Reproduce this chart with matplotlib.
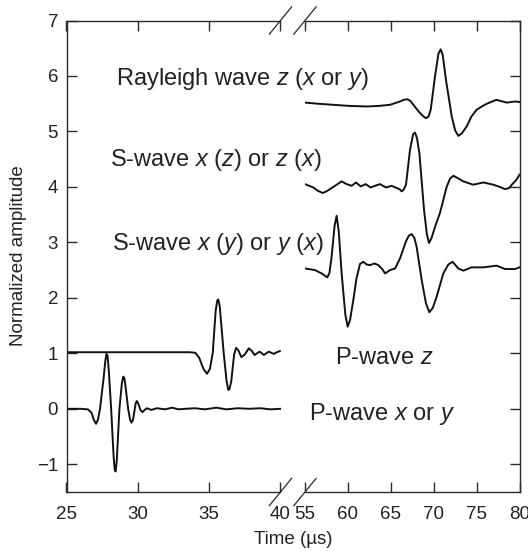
import numpy as np
import matplotlib
matplotlib.use("Agg")
import matplotlib.pyplot as plt

plt.rcParams['font.family'] = ['Liberation Sans', 'DejaVu Sans']
plt.rcParams['mathtext.fontset'] = 'custom'
plt.rcParams['mathtext.rm'] = 'Liberation Sans'
plt.rcParams['mathtext.it'] = 'Liberation Sans:italic'

# --- traces (time in us, normalized amplitude) ---
# left window 25-40 us
p_xy_t = [25.0, 26.0, 26.5, 26.75, 26.92, 27.07, 27.2, 27.35, 27.6, 27.72, 27.8, 27.88, 27.96,
          28.13, 28.3, 28.38, 28.44, 28.52, 28.71, 28.88, 28.98, 29.06, 29.14, 29.32, 29.46,
          29.56, 29.66, 29.85, 29.93, 30.02, 30.2, 30.33, 30.48, 30.63, 30.94, 31.34, 31.92,
          32.39, 32.86, 33.33, 34.0, 34.7, 35.5, 36.2, 37.0, 37.8, 38.6, 39.3, 40.0]
p_xy_amp = [0.0, 0.0, -0.01, -0.07, -0.2, -0.27, -0.2, 0.0, 0.55, 0.86, 0.99, 0.95, 0.7,
            0.0, -0.85, -1.1, -1.13, -0.95, 0.0, 0.46, 0.58, 0.55, 0.4, 0.0, -0.2,
            -0.25, -0.2, 0.1, 0.14, 0.1, -0.03, -0.06, -0.02, 0.01, -0.02, 0.01, -0.01,
            0.02, -0.01, 0.0, 0.01, -0.01, 0.02, -0.01, 0.01, 0.0, 0.01, -0.01, 0.0]

p_z_t = [25.0, 26.5, 28.0, 29.5, 31.0, 32.5, 33.6, 34.03, 34.3, 34.6, 34.85, 35.05,
         35.25, 35.45, 35.56, 35.64, 35.74, 36.02, 36.22, 36.34, 36.42, 36.55, 36.75, 36.89,
         37.05, 37.26, 37.5, 37.78, 38.0, 38.18, 38.35, 38.53, 38.7, 38.83, 39.0, 39.18,
         39.35, 39.53, 39.75, 39.95]
p_z_amp = [1.02, 1.02, 1.02, 1.02, 1.02, 1.02, 1.02, 1.01, 0.92, 0.72, 0.63, 0.72,
           1.0, 1.75, 1.95, 1.97, 1.85, 1.0, 0.5, 0.34, 0.35, 0.5, 0.98, 1.1,
           1.05, 0.93, 0.98, 1.09, 1.04, 0.97, 1.0, 1.03, 1.0, 0.97, 1.0, 1.03,
           1.01, 0.99, 1.02, 1.04]

# right window 55-80 us
rayl_t = [55.0, 56.5, 58.3, 60.2, 62.2, 63.6, 64.9, 66.07, 66.5, 66.93, 67.3, 67.63,
          68.3, 68.8, 69.1, 69.4, 69.65, 70.15, 70.55, 70.81, 71.05, 71.43, 72.1, 72.5,
          72.87, 73.3, 73.84, 74.4, 75.0, 75.6, 76.2, 77.3, 78.5, 79.5, 80.0]
rayl_amp = [5.52, 5.5, 5.48, 5.46, 5.45, 5.46, 5.48, 5.54, 5.57, 5.58, 5.55, 5.48,
            5.35, 5.27, 5.24, 5.27, 5.39, 5.99, 6.4, 6.48, 6.38, 5.93, 5.27, 5.02,
            4.92, 4.97, 5.09, 5.27, 5.39, 5.45, 5.5, 5.57, 5.52, 5.54, 5.53]

s_xz_t = [55.0, 55.97, 56.5, 57.06, 57.5, 57.9, 58.6, 59.27, 59.85, 60.44, 60.94, 61.49,
          62.07, 62.65, 63.16, 63.74, 64.44, 65.1, 65.68, 66.0, 66.27, 66.5, 66.77,
          67.24, 67.6, 67.82, 68.05, 68.33, 68.87, 69.2, 69.45, 69.75, 70.2, 70.73,
          71.51, 71.9, 72.29, 72.8, 73.45, 74.6, 75.8, 76.95, 77.7, 78.3, 78.8, 79.1,
          79.6, 80.0]
s_xz_amp = [4.05, 3.99, 3.93, 3.89, 3.92, 3.96, 4.03, 4.1, 4.05, 4.02, 4.08, 4.01,
            4.05, 3.99, 4.02, 4.05, 3.99, 4.02, 3.98, 3.96, 3.92, 3.95, 4.04,
            4.67, 4.95, 4.98, 4.88, 4.61, 3.59, 3.15, 2.99, 3.08, 3.3, 3.53,
            4.0, 4.15, 4.2, 4.16, 4.1, 4.04, 4.08, 4.04, 4.0, 3.96, 3.98, 4.04,
            4.12, 4.22]

s_xy_t = [55.0, 56.17, 56.94, 57.6, 57.85, 58.1, 58.45, 58.69, 58.93, 59.27, 59.7,
          59.97, 60.25, 60.63, 61.0, 61.41, 61.8, 62.2, 62.58, 63.1, 63.55, 64.0,
          64.33, 64.91, 65.5, 66.07, 66.77, 67.1, 67.43, 67.75, 68.01, 68.6, 69.1,
          69.49, 69.9, 70.34, 71.12, 71.7, 72.2, 72.87, 73.45, 74.42, 75.78, 77.34,
          78.3, 79.5, 80.0]
s_xy_amp = [2.53, 2.5, 2.44, 2.37, 2.45, 2.74, 3.3, 3.48, 3.2, 2.44, 1.7,
            1.48, 1.6, 1.96, 2.35, 2.61, 2.65, 2.6, 2.59, 2.62, 2.59, 2.52,
            2.44, 2.5, 2.53, 2.71, 3.02, 3.12, 3.15, 3.08, 2.92, 2.32, 1.9,
            1.74, 1.82, 2.02, 2.44, 2.6, 2.65, 2.53, 2.49, 2.55, 2.55, 2.58,
            2.52, 2.52, 2.55]

left_ticks = [25, 30, 35, 40]
right_ticks = [55, 60, 65, 70, 75, 80]
y_ticks = [-1, 0, 1, 2, 3, 4, 5, 6, 7]

W, H = 528, 551
fig = plt.figure(figsize=(W / 100, H / 100), dpi=100)
bottom, top = 492, 20.5
ax1 = fig.add_axes([66.5 / W, 1 - bottom / H, 214 / W, (bottom - top) / H])
ax2 = fig.add_axes([305 / W, 1 - bottom / H, 214.5 / W, (bottom - top) / H])

line_kw = dict(color='#111111', lw=1.4)
ax1.plot(p_z_t, p_z_amp, **line_kw)
ax1.plot(p_xy_t, p_xy_amp, **line_kw)
ax2.plot(rayl_t, rayl_amp, **line_kw)
ax2.plot(s_xz_t, s_xz_amp, **line_kw)
ax2.plot(s_xy_t, s_xy_amp, **line_kw)

spine_col = '#2a2a2a'
for ax in (ax1, ax2):
    ax.set_ylim(-1.5, 7)
    for s in ax.spines.values():
        s.set_color(spine_col)
        s.set_linewidth(1.0)
    ax.tick_params(direction='in', length=7, width=1.0, color=spine_col,
                   labelsize=13.5, labelcolor='#222222')
    ax.tick_params(axis='x', pad=10, top=True)

ax1.set_xlim(25, 40)
ax1.set_xticks(left_ticks)
ax1.set_yticks(y_ticks)
ax1.spines['right'].set_visible(False)
ax1.tick_params(axis='y', pad=6)

ax2.set_xlim(55, 80)
ax2.set_xticks(right_ticks)
ax2.set_yticks(y_ticks)
ax2.spines['left'].set_visible(False)
ax2.tick_params(axis='y', left=False, right=True, labelleft=False)

# break marks
dx, dy = 0.052, 0.029
for ax, x0 in ((ax1, 1.0), (ax2, 0.0)):
    for y0 in (0.0, 1.0):
        ax.plot([x0 - dx, x0 + dx], [y0 - dy, y0 + dy], transform=ax.transAxes,
                color=spine_col, lw=0.9, clip_on=False)

# trace labels
txt_kw = dict(ha='center', va='center', fontsize=17, color='#222222')
fig.text(242 / W, 1 - 79 / H, 'Rayleigh wave $z$ ($x$ or $y$)', **txt_kw)
fig.text(216 / W, 1 - 160 / H, 'S-wave $x$ ($z$) or $z$ ($x$)', **txt_kw)
fig.text(218 / W, 1 - 244 / H, 'S-wave $x$ ($y$) or $y$ ($x$)', **txt_kw)
fig.text(384 / W, 1 - 358 / H, 'P-wave $z$', **txt_kw)
fig.text(382 / W, 1 - 414 / H, 'P-wave $x$ or $y$', **txt_kw)

fig.text(293 / W, 1 - 540 / H, 'Time (\u00b5s)', ha='center', va='center',
         fontsize=13.5, color='#222222')
fig.text(18.5 / W, 1 - 256 / H, 'Normalized amplitude', ha='center', va='center',
         rotation=90, fontsize=13.5, color='#222222')

fig.savefig('out.png', dpi=100)
